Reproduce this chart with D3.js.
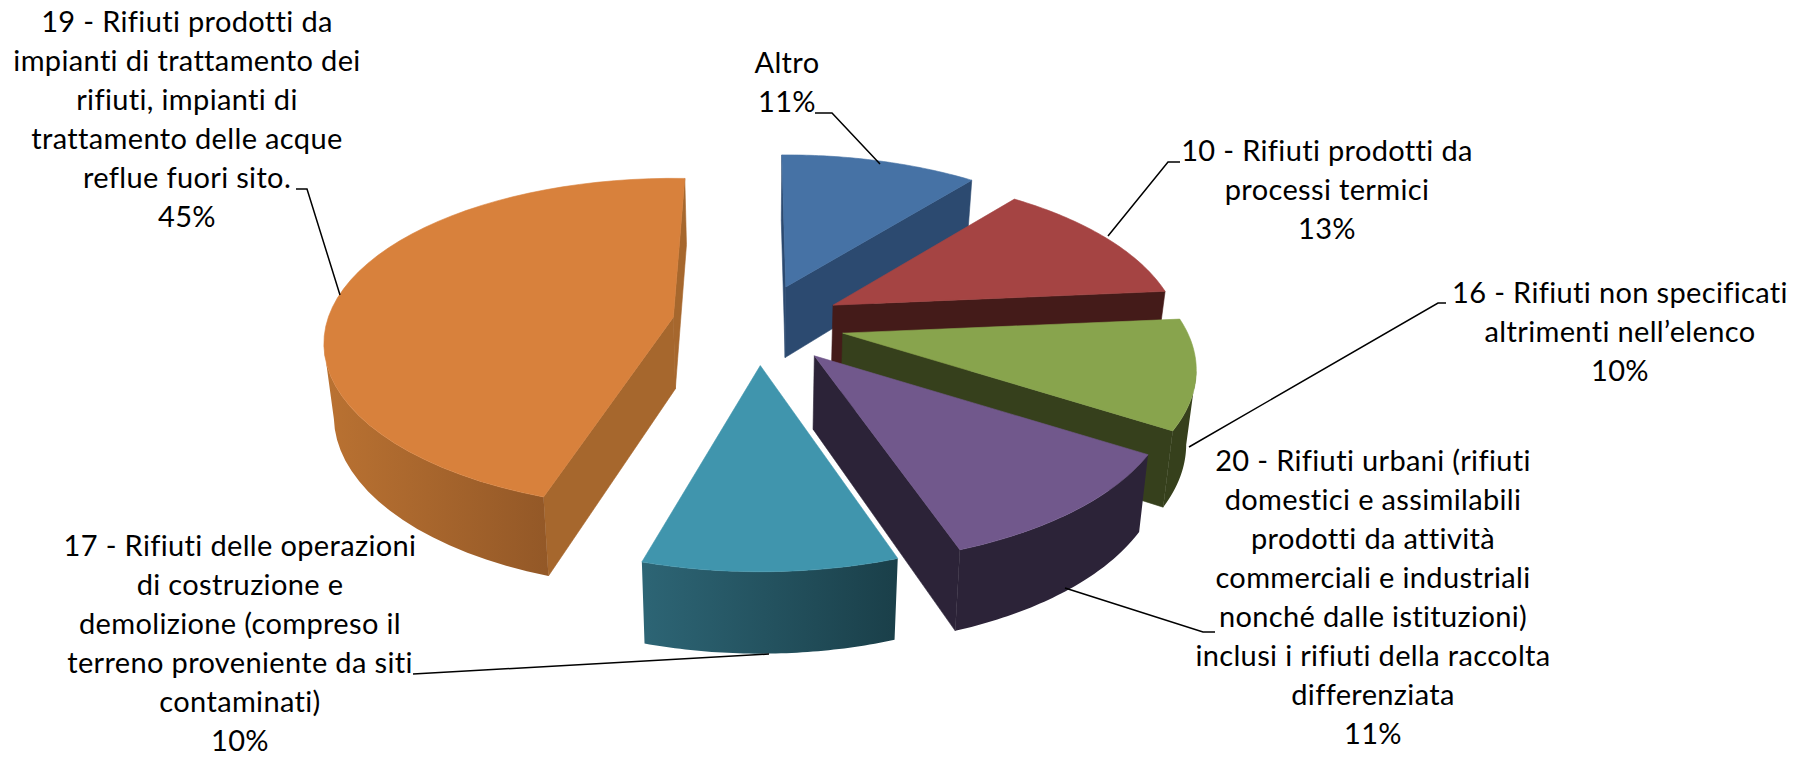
<!DOCTYPE html>
<html><head><meta charset="utf-8">
<style>html,body{margin:0;padding:0;background:#fff}svg{display:block}text{font-family:Lato,"Open Sans",sans-serif;fill:#000;font-variant-ligatures:none;letter-spacing:0.35px}</style>
<script src="https://cdn.jsdelivr.net/npm/d3@7/dist/d3.min.js"></script>
</head><body><svg id="c" width="1800" height="758"></svg>
<script>
const categories = ["Altro","10 - Rifiuti prodotti da processi termici","16 - Rifiuti non specificati altrimenti nell’elenco","20 - Rifiuti urbani","17 - Rifiuti delle operazioni","19 - Rifiuti prodotti"];
const values = [11, 13, 10, 10.5, 10.2, 45.3];
const labelLines = [
 ["Altro"],
 ["10 - Rifiuti prodotti da","processi termici"],
 ["16 - Rifiuti non specificati","altrimenti nell’elenco"],
 ["20 - Rifiuti urbani (rifiuti","domestici e assimilabili","prodotti da attività","commerciali e industriali","nonché dalle istituzioni)","inclusi i rifiuti della raccolta","differenziata"],
 ["17 - Rifiuti delle operazioni","di costruzione e","demolizione (compreso il","terreno proveniente da siti","contaminati)"],
 ["19 - Rifiuti prodotti da","impianti di trattamento dei","rifiuti, impianti di","trattamento delle acque","reflue fuori sito."]
];
// layout and style, separate from the data
const topColors = ["#4672a5","#a54443","#88a44d","#71588c","#4095ad","#d8813c"];
const cutColors = ["#2c4a70","#441b19","#36401c","#2c2338","#1f4a56","#a6672d"];
const rimStart  = ["#2c4a70","#441b19","#36401c","#2c2338","#2d6575","#ba7232"];
const rimEnd    = ["#2c4a70","#441b19","#36401c","#2c2338","#1a3f49","#935827"];
const labelCenter = [[787,73],[1327,161],[1620,303],[1373,471],[240,556],[187,32]];
const leaders = [
 [[815,113],[832,113],[880,164]],
 [[1180,162],[1168,162],[1108,236]],
 [[1446,303],[1438,303],[1189,447]],
 [[1215,632],[1203,632],[1065,588]],
 [[413,674],[769,654]],
 [[296,189],[307,189],[340,295]]
];
// per-slice view corrections of the 3D look: degrees at start and end of the arc, radius, perspective
const tweakStart = [-0.8,-1,-1.5,0,1.4,1.7];
const tweakEnd   = [-0.5,-1.5,0,0.5,-1.2,2.2];
const radiusK    = [1,0.985,1,1.01,1,1];
const perspK     = [0.219,0.219,0.219,0.219,0.219,0.16];
const cx=758, cy=323, explode=0.25, shrink=0.977;
const FS=29, LH=39;

const svg=d3.select("#c"), defs=svg.append("defs");
const sx=d3.scaleLinear().domain([-1,1]).range([-345,345]);
const sy=d3.scaleLinear().domain([-1,1]).range([161,-161]);
const line=d3.line();
const pie=d3.pie().sort(null).value(d=>d).startAngle(0).endAngle(2*Math.PI);
const proj=(r,t,p)=>{const u=r*Math.sin(t),v=r*Math.cos(t),w=1+p*v;return [sx(u)/w,sy(v)/w];};
const bottom=p=>[cx+(p[0]-cx)*shrink,p[1]+72+0.04*(p[1]-323)];
const cross=(a,b,c)=>(b[0]-a[0])*(c[1]-b[1])-(b[1]-a[1])*(c[0]-b[0]);
const rad=Math.PI/180;

pie(values).forEach((d,i)=>{
  const mid=(d.startAngle+d.endAngle)/2, off=proj(explode,mid,0.219);
  const apex=[cx+off[0],cy+off[1]];
  const a0=d.startAngle+tweakStart[i]*rad, a1=d.endAngle+tweakEnd[i]*rad;
  const n=48, rim=d3.range(n+1).map(k=>{
    const t=a0+(a1-a0)*k/n, q=proj(radiusK[i],t,perspK[i]);
    return [apex[0]+q[0],apex[1]+q[1]];
  });
  const g=svg.append("g");
  const face=(pts,fill)=>g.append("path").attr("d",line(pts)+"Z").attr("fill",fill).attr("stroke",fill).attr("stroke-width",0.6).attr("stroke-linejoin","round");
  const sF=[apex,rim[0],bottom(rim[0]),bottom(apex)];
  if(cross(sF[0],sF[1],sF[2])<0) face(sF,cutColors[i]);
  const eF=[apex,rim[n],bottom(rim[n]),bottom(apex)];
  if(cross(eF[0],eF[1],eF[2])>0) face(eF,cutColors[i]);
  const vis=[];
  for(let k=0;k<n;k++){ if(rim[k+1][0]<rim[k][0]) vis.push(k); }
  if(vis.length){
    const a=vis[0], b=vis[vis.length-1]+1, top=rim.slice(a,b+1);
    const wall=top.concat(top.map(bottom).reverse());
    const id="rim"+i, xs=d3.extent(wall,p=>p[0]);
    const lg=defs.append("linearGradient").attr("id",id).attr("gradientUnits","userSpaceOnUse")
      .attr("x1",xs[0]).attr("x2",xs[1]).attr("y1",0).attr("y2",0);
    lg.append("stop").attr("offset",0).attr("stop-color",rimStart[i]);
    lg.append("stop").attr("offset",1).attr("stop-color",rimEnd[i]);
    g.append("path").attr("d",line(wall)+"Z").attr("fill",`url(#${id})`);
  }
  face([apex].concat(rim),topColors[i]);
});

leaders.forEach(l=>svg.append("path").attr("d",line(l)).attr("fill","none").attr("stroke","#000").attr("stroke-width",1.5));

labelLines.forEach((lines,i)=>{
  const all=lines.concat([Math.round(values[i])+"%"]);
  const t=svg.append("text").attr("text-anchor","middle").attr("font-size",FS);
  all.forEach((s,k)=>t.append("tspan").attr("x",labelCenter[i][0]).attr("y",labelCenter[i][1]+k*LH).text(s));
});
</script></body></html>
